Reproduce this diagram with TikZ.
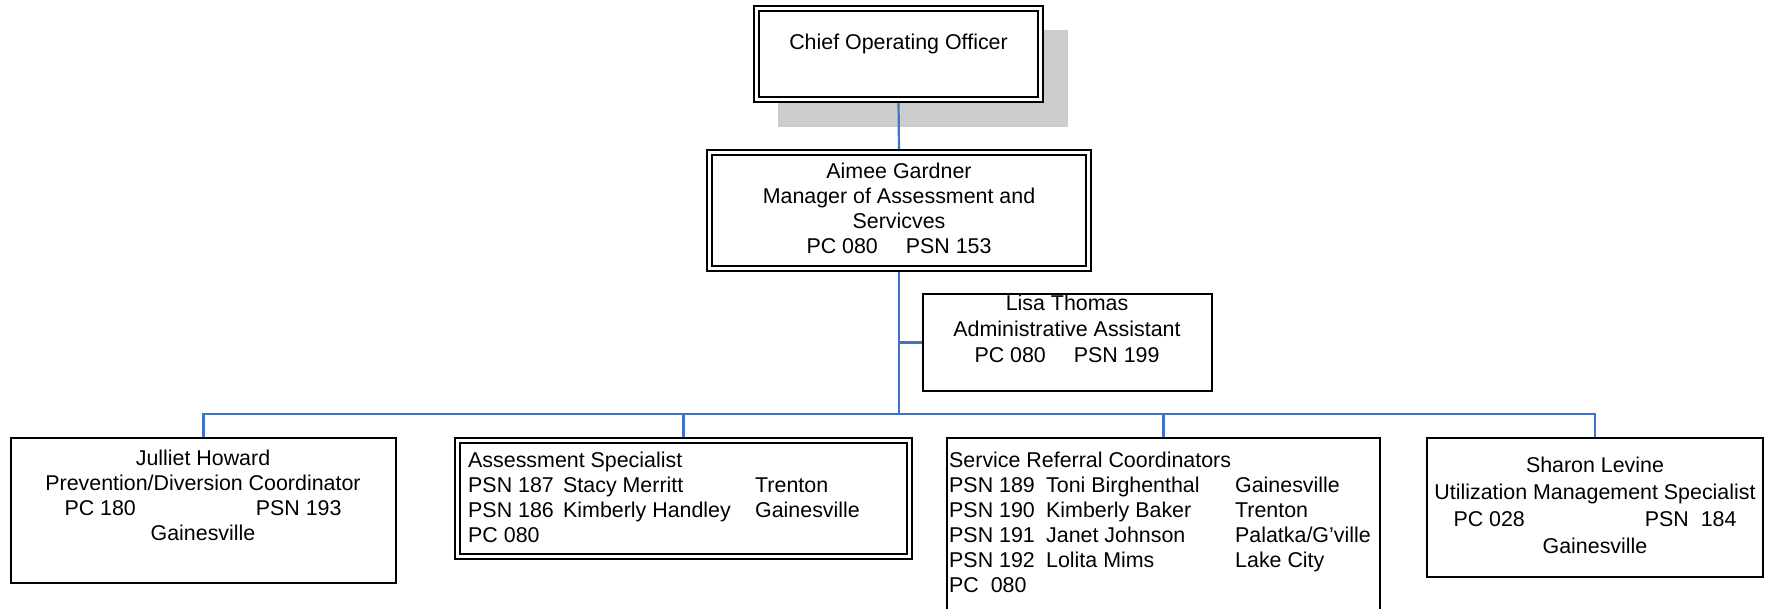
\documentclass[tikz,border=0pt]{standalone}
\usepackage{fontspec}
\setmainfont{Liberation Sans}
\usetikzlibrary{backgrounds}
\definecolor{connblue}{RGB}{68,114,196}
\definecolor{shadowgray}{RGB}{204,204,204}
\begin{document}
\begin{tikzpicture}[x=1pt,y=-1pt,
  txt/.style={inner sep=0pt, font=\fontsize{21.4}{25}\selectfont, align=center},
  ltxt/.style={inner sep=0pt, font=\fontsize{21.4}{25}\selectfont, align=left, anchor=west},
  sbox/.style={draw=black, line width=1.9pt, fill=white, inner sep=0pt, outer sep=0pt},
  dbox/.style={draw=black, line width=1.9pt, double=white, double distance=3.1pt, fill=white, inner sep=0pt, outer sep=0pt},
  openbox/.style={draw=none, fill=white, inner sep=0pt, outer sep=0pt},
  conn/.style={draw=connblue, line width=2.2pt},
  shadowbox/.style={fill=shadowgray, draw=none, inner sep=0pt, outer sep=0pt}
]
\useasboundingbox (0,0) rectangle (1769,609);

% boxes
\node[dbox, minimum width=284pt, minimum height=91pt] (coo) at (898.5,54) {};
\node[dbox, minimum width=379pt, minimum height=116pt] (mgr) at (899,210.5) {};
\node[sbox, minimum width=289pt, minimum height=97pt] (lisa) at (1067.5,342.5) {};
\node[sbox, minimum width=385pt, minimum height=145pt] (jul) at (203.5,510.5) {};
\node[dbox, minimum width=452pt, minimum height=116pt] (ase) at (683.5,498.5) {};
\node[openbox, minimum width=433pt, minimum height=175pt] (ser) at (1163.5,525.5) {};
\draw[black, line width=1.9pt] (ser.south west) -- (ser.north west) -- (ser.north east) -- (ser.south east);
\node[sbox, minimum width=336pt, minimum height=139pt] (sha) at (1595,507.5) {};

% background: shadow and connectors
\begin{scope}[on background layer]
  \node[shadowbox, minimum width=290pt, minimum height=97pt] (shd) at (923,78.5) {};
  \coordinate (busy) at (0,414);
  \draw[conn] (coo.south) -- (mgr.north);
  \draw[conn] (mgr.south) -- (mgr.south |- busy);
  \draw[conn] (mgr.south |- lisa.west) -- (lisa.west);
  \draw[conn] (jul.north) -- (jul.north |- busy) -- (sha.north |- busy) -- (sha.north);
  \draw[conn] (ase.north) -- (ase.north |- busy);
  \draw[conn] (ser.north) -- (ser.north |- busy);
\end{scope}

% texts
\node[txt] (cootxt) at (898.5,45) {\strut Chief Operating Officer};
\node[txt] (mgrtxt) at (899,211.5) {\strut Aimee Gardner\\ \strut Manager of Assessment and\\ \strut Servicves\\ \strut\makebox[185pt]{PC 080\hfill PSN 153}};
\node[txt, font=\fontsize{21.4}{26}\selectfont] (lisatxt) at (1067,331) {\strut Lisa Thomas\\ \strut Administrative Assistant\\ \strut\makebox[185pt]{PC 080\hfill PSN 199}};
\node[txt] (jultxt) at (203,498) {\strut Julliet Howard\\ \strut Prevention/Diversion Coordinator\\ \strut\makebox[277pt]{PC 180\hfill PSN 193}\\ \strut Gainesville};
\node[ltxt] (asetxt) at (468,499.5) {\strut Assessment Specialist\\
  \strut\makebox[95pt][l]{PSN 187}\makebox[192pt][l]{Stacy Merritt}Trenton\\
  \strut\makebox[95pt][l]{PSN 186}\makebox[192pt][l]{Kimberly Handley}Gainesville\\
  \strut PC 080};
\node[ltxt] (sertxt) at (949,524.5) {\strut Service Referral Coordinators\\
  \strut\makebox[97pt][l]{PSN 189}\makebox[189pt][l]{Toni Birghenthal}Gainesville\\
  \strut\makebox[97pt][l]{PSN 190}\makebox[189pt][l]{Kimberly Baker}Trenton\\
  \strut\makebox[97pt][l]{PSN 191}\makebox[189pt][l]{Janet Johnson}Palatka/G’ville\\
  \strut\makebox[97pt][l]{PSN 192}\makebox[189pt][l]{Lolita Mims}Lake City\\
  \strut PC\ \ 080};
\node[txt, font=\fontsize{21.4}{27}\selectfont] (shatxt) at (1595,508) {\strut Sharon Levine\\ \strut Utilization Management Specialist\\ \strut\makebox[283pt]{PC 028\hfill PSN\ \ 184}\\ \strut Gainesville};
\end{tikzpicture}
\end{document}
